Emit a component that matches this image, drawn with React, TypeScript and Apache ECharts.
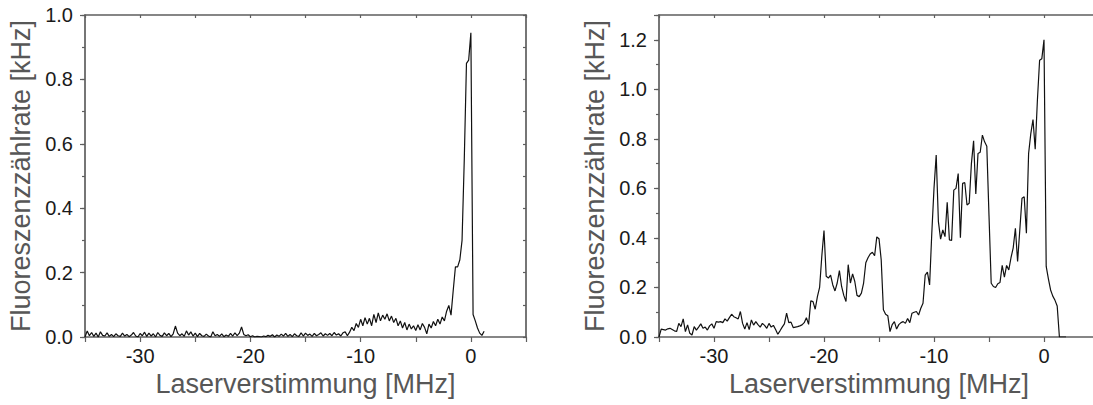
import React, { useEffect, useRef } from "react";
import * as echarts from "echarts";

// ---- data ----
const X_MIN = -35;
const X_MAX = 5;
const X_START = -35; // first sample (MHz)
const X_STEP = 0.2; // sample spacing (MHz)

const xTitle = "Laserverstimmung [MHz]";
const yTitle = "Fluoreszenzzählrate [kHz]";

const leftYMax = 1.0;
const rightYMax = 1.3;

// left panel: fluorescence rate [kHz], samples from -35 MHz in 0.2 MHz steps
const leftValues = [
  0.0, 0.019, 0.004, 0.014, 0.002, 0.012, 0.0, 0.016, 0.005, 0.003,
  0.013, 0.002, 0.008, 0.001, 0.01, 0.004, 0.002, 0.012, 0.003, 0.008,
  0.001, 0.006, 0.014, 0.003, 0.0, 0.011, 0.004, 0.015, 0.002, 0.012,
  0.003, 0.01, 0.0, 0.014, 0.005, 0.002, 0.013, 0.004, 0.011, 0.001,
  0.01, 0.034, 0.012, 0.004, 0.01, 0.002, 0.019, 0.006, 0.016, 0.003,
  0.012, 0.001, 0.011, 0.004, 0.002, 0.009, 0.003, 0.0, 0.016, 0.004,
  0.008, 0.002, 0.01, 0.001, 0.006, 0.002, 0.011, 0.003, 0.013, 0.004,
  0.012, 0.031, 0.008, 0.004, 0.007, 0.001, 0.004, 0.0, 0.002, 0.001,
  0.0, 0.003, 0.001, 0.005, 0.002, 0.007, 0.0, 0.006, 0.002, 0.009,
  0.003, 0.011, 0.002, 0.008, 0.001, 0.01, 0.004, 0.002, 0.013, 0.003,
  0.012, 0.005, 0.009, 0.002, 0.011, 0.004, 0.008, 0.013, 0.003, 0.01,
  0.005, 0.011, 0.004, 0.014, 0.006, 0.01, 0.003, 0.013, 0.016, 0.004,
  0.015, 0.03, 0.02, 0.042, 0.03, 0.055, 0.035, 0.06, 0.04, 0.058,
  0.035, 0.07, 0.045, 0.075, 0.05, 0.068, 0.055, 0.072, 0.05, 0.065,
  0.045, 0.058, 0.035, 0.05, 0.028, 0.045, 0.022, 0.04, 0.025, 0.035,
  0.02, 0.038, 0.022, 0.042, 0.03, 0.01, 0.04, 0.028, 0.048, 0.035,
  0.055, 0.04, 0.062, 0.05, 0.08, 0.098, 0.068, 0.145, 0.218, 0.218,
  0.24, 0.3, 0.55, 0.85, 0.86, 0.945, 0.07, 0.05, 0.028, 0.012,
  0.005, 0.018,
];

// right panel: fluorescence rate [kHz], samples from -35 MHz in 0.2 MHz steps
const rightValues = [
  0.0, 0.032, 0.03, 0.028, 0.033, 0.035, 0.03, 0.025, 0.022, 0.055,
  0.042, 0.073, 0.022, 0.049, 0.015, 0.008, 0.042, 0.028, 0.04, 0.053,
  0.035, 0.04, 0.028, 0.045, 0.053, 0.035, 0.062, 0.06, 0.062, 0.058,
  0.073, 0.064, 0.078, 0.092, 0.082, 0.078, 0.073, 0.103, 0.055, 0.032,
  0.058, 0.03, 0.069, 0.048, 0.062, 0.05, 0.04, 0.055, 0.047, 0.035,
  0.055, 0.04, 0.047, 0.03, 0.011, 0.025, 0.04, 0.053, 0.096, 0.058,
  0.06, 0.038, 0.04, 0.042, 0.045, 0.049, 0.058, 0.078, 0.051, 0.146,
  0.143, 0.112, 0.163, 0.2, 0.326, 0.43, 0.245, 0.238, 0.25, 0.21,
  0.186, 0.218, 0.268, 0.204, 0.168, 0.143, 0.292, 0.218, 0.255, 0.224,
  0.168, 0.163, 0.177, 0.218, 0.3, 0.32, 0.335, 0.342, 0.328, 0.404,
  0.397, 0.312, 0.11, 0.092, 0.086, 0.022, 0.05, 0.062, 0.032, 0.05,
  0.058, 0.062, 0.055, 0.075, 0.058, 0.096, 0.1, 0.103, 0.089, 0.116,
  0.136, 0.25, 0.262, 0.21, 0.42, 0.6, 0.735, 0.466, 0.395, 0.432,
  0.405, 0.544, 0.392, 0.39, 0.593, 0.6, 0.66, 0.401, 0.62, 0.623,
  0.533, 0.54, 0.7, 0.792, 0.577, 0.741, 0.746, 0.815, 0.788, 0.77,
  0.49, 0.217, 0.204, 0.2, 0.215, 0.22, 0.289, 0.242, 0.289, 0.271,
  0.32, 0.36, 0.439, 0.305, 0.432, 0.56, 0.566, 0.419, 0.741, 0.821,
  0.878, 0.758, 0.956, 1.117, 1.123, 1.2, 0.285, 0.235, 0.19, 0.165,
  0.148, 0.125, 0.0, 0.0, 0.0, 0.0,
];

// ---- styling ----
const FONT = "'Liberation Sans', Arial, Helvetica, sans-serif";
const AXIS_COLOR = "#5e5e5e";
const LABEL_COLOR = "#1a1a1a";
const TITLE_COLOR = "#575757";

function toPairs(values: number[]): [number, number][] {
  return values.map((v, i) => [Number((X_START + i * X_STEP).toFixed(1)), v]);
}

function xAxes(gridIndex: number) {
  const line = { show: true, onZero: false, lineStyle: { color: AXIS_COLOR, width: 1.7 } };
  return [
    {
      type: "value",
      gridIndex,
      position: "bottom",
      min: X_MIN,
      max: X_MAX,
      interval: 5,
      axisLine: line,
      axisTick: { show: true, inside: false, length: 5, lineStyle: { color: AXIS_COLOR, width: 1.2 } },
      axisLabel: {
        margin: 9,
        fontSize: 20,
        color: LABEL_COLOR,
        fontFamily: FONT,
        formatter: (v: number) => (Math.round(v) % 10 === 0 ? String(Math.round(v)) : ""),
      },
      splitLine: { show: false },
      name: xTitle,
      nameLocation: "middle",
      nameGap: 28,
      nameTextStyle: { fontSize: 27, color: TITLE_COLOR, fontFamily: FONT },
    },
    {
      type: "value",
      gridIndex,
      position: "top",
      min: X_MIN,
      max: X_MAX,
      interval: 5,
      axisLine: line,
      axisTick: { show: true, inside: true, length: 3, lineStyle: { color: AXIS_COLOR, width: 1.2 } },
      axisLabel: { show: false },
      splitLine: { show: false },
    },
  ];
}

function yAxes(gridIndex: number, max: number) {
  const line = { show: true, onZero: false, lineStyle: { color: AXIS_COLOR, width: 1.7 } };
  return [
    {
      type: "value",
      gridIndex,
      position: "left",
      min: 0,
      max,
      interval: 0.2,
      axisLine: line,
      axisTick: { show: true, inside: false, length: 5, lineStyle: { color: AXIS_COLOR, width: 1.2 } },
      axisLabel: {
        margin: 12,
        fontSize: 20,
        color: LABEL_COLOR,
        fontFamily: FONT,
        formatter: (v: number) => (Math.round(v * 10) % 2 === 0 ? v.toFixed(1) : ""),
      },
      splitLine: { show: false },
      name: yTitle,
      nameLocation: "middle",
      nameRotate: 90,
      nameGap: 51,
      nameTextStyle: { fontSize: 27, color: TITLE_COLOR, fontFamily: FONT },
    },
    {
      type: "value",
      gridIndex,
      position: "left",
      min: 0,
      max,
      interval: 0.1,
      axisLine: { show: false, onZero: false },
      axisTick: { show: true, inside: false, length: 3, lineStyle: { color: AXIS_COLOR, width: 1.2 } },
      axisLabel: { show: false },
      splitLine: { show: false },
    },
    {
      type: "value",
      gridIndex,
      position: "right",
      min: 0,
      max,
      interval: 0.1,
      axisLine: line,
      axisTick: { show: true, inside: true, length: 3, lineStyle: { color: AXIS_COLOR, width: 1.2 } },
      axisLabel: { show: false },
      splitLine: { show: false },
    },
  ];
}

export default function App() {
  const ref = useRef<HTMLDivElement>(null);

  useEffect(() => {
    document.body.style.margin = "0";
    const chart = echarts.init(ref.current!, null, { renderer: "svg" });
    const lineStyle = { color: "#111111", width: 1.2 };
    chart.setOption({
      animation: false,
      backgroundColor: "#ffffff",
      grid: [
        { left: 85, top: 15, width: 441, height: 322, outerBoundsMode: "none", containLabel: false },
        { left: 659, top: 15, width: 440, height: 322, outerBoundsMode: "none", containLabel: false },
      ],
      xAxis: [...xAxes(0), ...xAxes(1)],
      yAxis: [...yAxes(0, leftYMax), ...yAxes(1, rightYMax)],
      series: [
        {
          type: "line",
          xAxisIndex: 0,
          yAxisIndex: 0,
          data: toPairs(leftValues),
          showSymbol: false,
          symbol: "none",
          lineStyle,
        },
        {
          type: "line",
          xAxisIndex: 2,
          yAxisIndex: 3,
          data: toPairs(rightValues),
          showSymbol: false,
          symbol: "none",
          lineStyle,
        },
      ],
    });
    return () => chart.dispose();
  }, []);

  return <div ref={ref} style={{ width: 1093, height: 405 }} />;
}
